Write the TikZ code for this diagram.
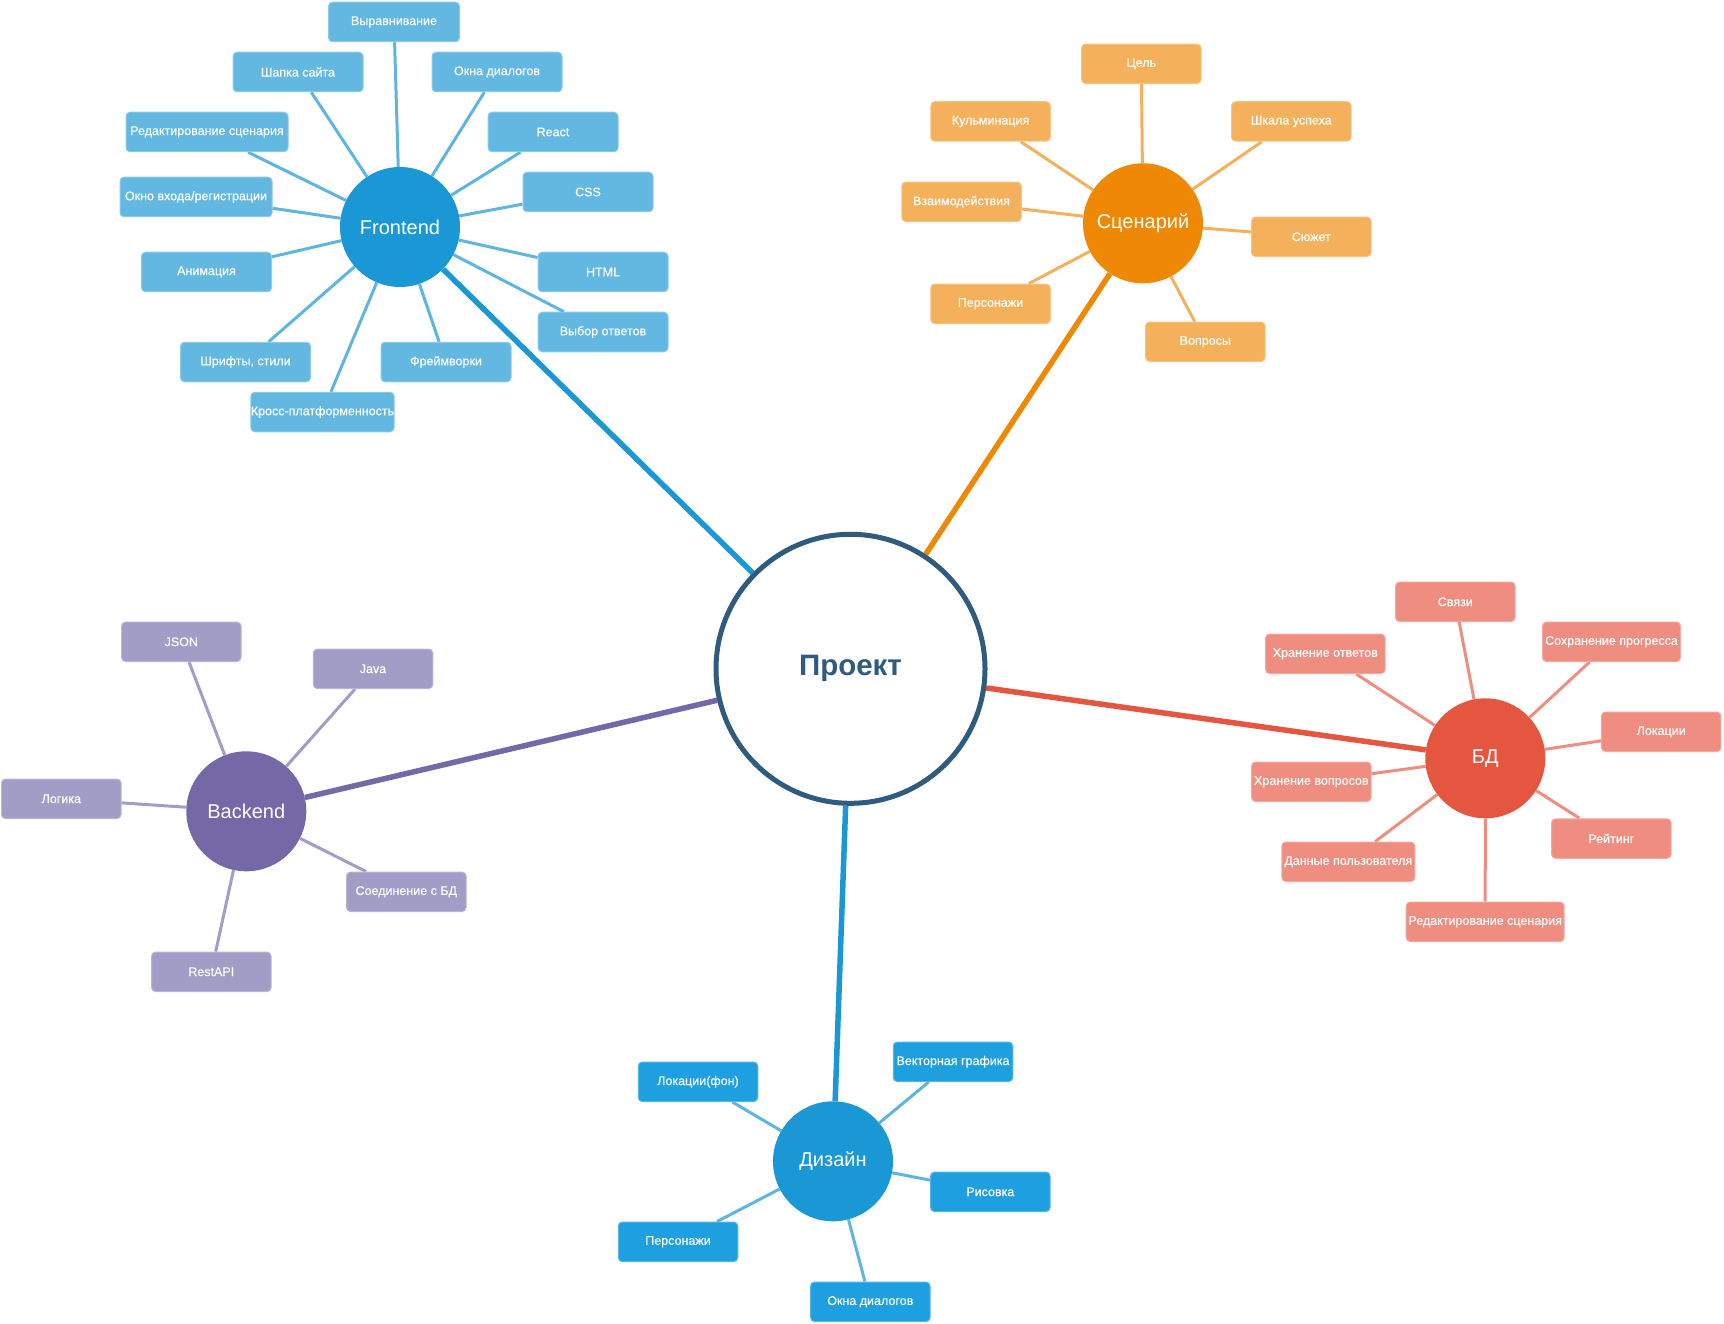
\documentclass[tikz,border=0pt]{standalone}
\usepackage{fontspec}
\setmainfont{Liberation Sans}
\newfontfamily\leaffont[FakeBold=0.3]{Liberation Sans}
\usetikzlibrary{backgrounds}

\definecolor{projcol}{HTML}{2E5B7E}
\definecolor{fecol}{HTML}{1A98D5}
\definecolor{feleaf}{HTML}{63B8E1}
\definecolor{feedge}{HTML}{5EB6E0}
\definecolor{sccol}{HTML}{EF8805}
\definecolor{scleaf}{HTML}{F4B05A}
\definecolor{bdcol}{HTML}{E55640}
\definecolor{bdleaf}{HTML}{EF8D80}
\definecolor{becol}{HTML}{7469A6}
\definecolor{beleaf}{HTML}{A29DC6}
\definecolor{dzleaf}{HTML}{1E9FE0}

\begin{document}
\begin{tikzpicture}[x=1pt, y=-1pt,
    hub/.style={circle, fill=#1, minimum size=120pt, inner sep=0pt, text=white,
        font=\fontsize{20}{24}\selectfont},
    leaf/.style={rectangle, rounded corners=4pt, fill=#1, draw=#1!75!white, line width=1pt,
        minimum width=119.5pt, minimum height=39.5pt, inner sep=2pt, text=white,
        font=\leaffont\fontsize{12.5}{15}\selectfont},
    link/.style={draw=#1, line width=3pt},
    trunk/.style={draw=#1, line width=5.5pt}]
    \useasboundingbox (0,0) rectangle (1724,1324);

    % Central node
    \node[circle, draw=projcol, line width=5pt, fill=white, minimum size=269pt, inner sep=0pt,
        text=projcol, font=\fontsize{29.5}{34}\selectfont\bfseries] (proj) at (850.5,668.8) {Проект};

    % Hubs
    \node[hub=fecol] (fe) at (400,227) {Frontend};
    \node[hub=sccol] (sc) at (1143,223.3) {Сценарий};
    \node[hub=bdcol] (bd) at (1485.3,758.3) {БД};
    \node[hub=becol] (be) at (246.3,811.3) {Backend};
    \node[hub=fecol] (dz) at (833,1161.3) {Дизайн};

    % Frontend leaves
    \node[leaf=feleaf, minimum width=131pt] (feAlign) at (394,22) {Выравнивание};
    \node[leaf=feleaf, minimum width=130pt] (feHead) at (298,72) {Шапка сайта};
    \node[leaf=feleaf, minimum width=130pt] (feDlg) at (497,72) {Окна диалогов};
    \node[leaf=feleaf, minimum width=162pt] (feEdit) at (207,132) {Редактирование сценария};
    \node[leaf=feleaf, minimum width=130pt] (feReact) at (553,132) {React};
    \node[leaf=feleaf, minimum width=152pt] (feLogin) at (196,197) {Окно входа/регистрации};
    \node[leaf=feleaf, minimum width=130pt] (feCss) at (588,192) {CSS};
    \node[leaf=feleaf, minimum width=130pt] (feAnim) at (206.5,272) {Анимация};
    \node[leaf=feleaf, minimum width=130pt] (feHtml) at (603,272) {HTML};
    \node[leaf=feleaf, minimum width=130pt] (feAns) at (603,332) {Выбор ответов};
    \node[leaf=feleaf, minimum width=130pt] (feFont) at (245.5,362) {Шрифты, стили};
    \node[leaf=feleaf, minimum width=130pt] (feFrame) at (446,362) {Фреймворки};
    \node[leaf=feleaf, minimum width=142pt, inner xsep=0pt] (feCross) at (322.5,412) {Кросс-платформенность};

    % Scenario leaves
    \node[leaf=scleaf] (scGoal) at (1141.3,63.8) {Цель};
    \node[leaf=scleaf] (scClim) at (990.5,121.5) {Кульминация};
    \node[leaf=scleaf] (scScale) at (1291.3,121.5) {Шкала успеха};
    \node[leaf=scleaf] (scInter) at (961.5,201.8) {Взаимодействия};
    \node[leaf=scleaf] (scPlot) at (1311.3,236.8) {Сюжет};
    \node[leaf=scleaf] (scChar) at (990.5,303.8) {Персонажи};
    \node[leaf=scleaf] (scQuest) at (1205.3,341.8) {Вопросы};

    % Database leaves
    \node[leaf=bdleaf] (bdLinks) at (1455.3,601.8) {Связи};
    \node[leaf=bdleaf] (bdAns) at (1325.3,653.8) {Хранение ответов};
    \node[leaf=bdleaf, minimum width=138pt] (bdProg) at (1611.5,641.8) {Сохранение прогресса};
    \node[leaf=bdleaf] (bdLoc) at (1661.2,731.8) {Локации};
    \node[leaf=bdleaf] (bdQuest) at (1311.3,781.8) {Хранение вопросов};
    \node[leaf=bdleaf] (bdRate) at (1611.3,838.5) {Рейтинг};
    \node[leaf=bdleaf, minimum width=133pt] (bdUser) at (1348.3,861.8) {Данные пользователя};
    \node[leaf=bdleaf, minimum width=158pt] (bdEdit) at (1485.2,921.8) {Редактирование сценария};

    % Backend leaves
    \node[leaf=beleaf] (beJson) at (181.3,641.8) {JSON};
    \node[leaf=beleaf] (beJava) at (373,668.8) {Java};
    \node[leaf=beleaf] (beLogic) at (61.3,798.8) {Логика};
    \node[leaf=beleaf] (beDb) at (406.3,891.8) {Соединение с БД};
    \node[leaf=beleaf] (beRest) at (211.3,971.8) {RestAPI};

    % Design leaves
    \node[leaf=dzleaf] (dzVec) at (953,1061.8) {Векторная графика};
    \node[leaf=dzleaf] (dzLoc) at (698,1081.8) {Локации(фон)};
    \node[leaf=dzleaf] (dzDraw) at (990.3,1191.8) {Рисовка};
    \node[leaf=dzleaf] (dzChar) at (678,1241.8) {Персонажи};
    \node[leaf=dzleaf] (dzDlg) at (870.3,1301.8) {Окна диалогов};

    \begin{scope}[on background layer]
    % Trunks
    \draw[trunk=fecol] (proj) -- (fe);
    \draw[trunk=sccol] (proj) -- (sc);
    \draw[trunk=bdcol] (proj) -- (bd);
    \draw[trunk=becol] (proj) -- (be);
    \draw[trunk=fecol] (proj) -- (dz);

    % Branches
    \draw[link=feedge] (fe) -- (feAlign);
    \draw[link=feedge] (fe) -- (feHead);
    \draw[link=feedge] (fe) -- (feDlg);
    \draw[link=feedge] (fe) -- (feEdit);
    \draw[link=feedge] (fe) -- (feReact);
    \draw[link=feedge] (fe) -- (feLogin);
    \draw[link=feedge] (fe) -- (feCss);
    \draw[link=feedge] (fe) -- (feAnim);
    \draw[link=feedge] (fe) -- (feHtml);
    \draw[link=feedge] (fe) -- (feAns);
    \draw[link=feedge] (fe) -- (feFont);
    \draw[link=feedge] (fe) -- (feFrame);
    \draw[link=feedge] (fe) -- (feCross);

    \draw[link=scleaf] (sc) -- (scGoal);
    \draw[link=scleaf] (sc) -- (scClim);
    \draw[link=scleaf] (sc) -- (scScale);
    \draw[link=scleaf] (sc) -- (scInter);
    \draw[link=scleaf] (sc) -- (scPlot);
    \draw[link=scleaf] (sc) -- (scChar);
    \draw[link=scleaf] (sc) -- (scQuest);

    \draw[link=bdleaf] (bd) -- (bdLinks);
    \draw[link=bdleaf] (bd) -- (bdAns);
    \draw[link=bdleaf] (bd) -- (bdProg);
    \draw[link=bdleaf] (bd) -- (bdLoc);
    \draw[link=bdleaf] (bd) -- (bdQuest);
    \draw[link=bdleaf] (bd) -- (bdRate);
    \draw[link=bdleaf] (bd) -- (bdUser);
    \draw[link=bdleaf] (bd) -- (bdEdit);

    \draw[link=beleaf] (be) -- (beJson);
    \draw[link=beleaf] (be) -- (beJava);
    \draw[link=beleaf] (be) -- (beLogic);
    \draw[link=beleaf] (be) -- (beDb);
    \draw[link=beleaf] (be) -- (beRest);

    \draw[link=feedge] (dz) -- (dzVec);
    \draw[link=feedge] (dz) -- (dzLoc);
    \draw[link=feedge] (dz) -- (dzDraw);
    \draw[link=feedge] (dz) -- (dzChar);
    \draw[link=feedge] (dz) -- (dzDlg);
    \end{scope}
\end{tikzpicture}
\end{document}
